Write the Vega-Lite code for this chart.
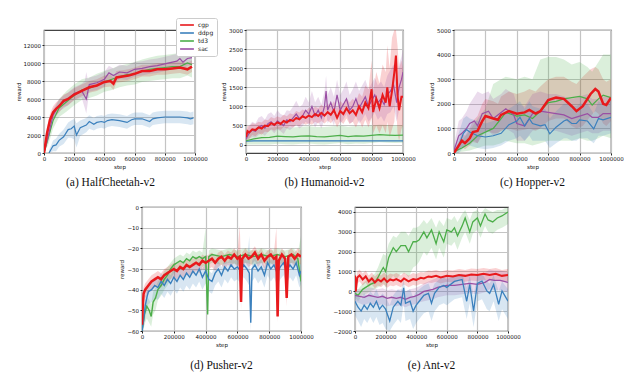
{
"$schema":"https://vega.github.io/schema/vega-lite/v6.json",
"background":"white",
"padding":{"left":15,"top":16,"right":5,"bottom":5},
"spacing":15,
"resolve":{"scale":{"color":"independent","fill":"independent"},"legend":{"color":"independent","fill":"independent"}},
"config":{
 "view":{"stroke":"#444","strokeWidth":1.2},
 "axis":{"labelFont":"DejaVu Sans","labelFontSize":5.5,"titleFont":"DejaVu Sans","titleFontSize":5.5,"titleFontWeight":"normal","gridColor":"#c4c4c4","gridWidth":1.2,"tickSize":2,"tickColor":"#222","domain":false,"labelColor":"#111","titleColor":"#111","labelPadding":1.5,"titlePadding":2},
 "title":{"font":"Liberation Serif","fontSize":11.5,"fontWeight":"normal","orient":"bottom","offset":7,"color":"#111"}
},
"vconcat":[
{"hconcat":[
 {"width":151,"height":123,"data":{"name":"a"},"title":{"text":"(a)  HalfCheetah-v2","dx":-9},
  "encoding":{"x":{"field":"x","type":"quantitative","scale":{"domain":[0,1000000],"nice":false},"axis":{"values":[0,200000,400000,600000,800000,1000000],"format":"d","title":"step","labelFlush":false,"labelOverlap":false}}},
  "layer":[
   {"mark":{"type":"area","opacity":0.2,"clip":true},"encoding":{"y":{"field":"l","type":"quantitative","scale":{"domain":[0,13667],"nice":false,"zero":false},"axis":{"values":[0,2000,4000,6000,8000,10000,12000],"format":"d","title":"reward","labelOverlap":false}},"y2":{"field":"h"},"fill":{"field":"s","type":"nominal","scale":{"domain":["sac","td3","ddpg","cgp"],"range":["#9a4fa4","#4cae49","#3b80bd","#e8191c"]},"legend":null}}},
   {"transform":[{"filter":"datum.s!='cgp'"}],"mark":{"type":"line","strokeWidth":1.2,"clip":true},"encoding":{"y":{"field":"y","type":"quantitative","axis":{"values":[0,2000,4000,6000,8000,10000,12000],"format":"d","title":"reward","labelOverlap":false}},"color":{"field":"s","type":"nominal","scale":{"domain":["cgp","ddpg","td3","sac"],"range":["#e8191c","#3b80bd","#4cae49","#9a4fa4"]},"legend":{"orient":"none","legendX":132,"legendY":-12,"title":null,"symbolType":"M-2.3,0H2.3","symbolSize":36,"symbolStrokeWidth":1.6,"symbolOffset":4,"labelFontSize":6,"labelFont":"DejaVu Sans","labelColor":"#222","rowPadding":0,"padding":3,"strokeColor":"#ccc","fillColor":"white","cornerRadius":2,"labelOffset":7}}}},
   {"transform":[{"filter":"datum.s=='cgp'"}],"mark":{"type":"line","strokeWidth":2.5,"clip":true},"encoding":{"y":{"field":"y","type":"quantitative","axis":{"values":[0,2000,4000,6000,8000,10000,12000],"format":"d","title":"reward","labelOverlap":false}},"color":{"field":"s","type":"nominal","scale":{"domain":["cgp","ddpg","td3","sac"],"range":["#e8191c","#3b80bd","#4cae49","#9a4fa4"]},"legend":{"orient":"none","legendX":132,"legendY":-12,"title":null,"symbolType":"M-2.3,0H2.3","symbolSize":36,"symbolStrokeWidth":1.6,"symbolOffset":4,"labelFontSize":6,"labelFont":"DejaVu Sans","labelColor":"#222","rowPadding":0,"padding":3,"strokeColor":"#ccc","fillColor":"white","cornerRadius":2,"labelOffset":7}}}}
  ]},
 {"width":157,"height":123,"data":{"name":"b"},"title":{"text":"(b)  Humanoid-v2"},
  "encoding":{"x":{"field":"x","type":"quantitative","scale":{"domain":[0,1000000],"nice":false},"axis":{"values":[0,200000,400000,600000,800000,1000000],"format":"d","title":"step","labelFlush":false,"labelOverlap":false}}},
  "layer":[
   {"mark":{"type":"area","opacity":0.2,"clip":true},"encoding":{"y":{"field":"l","type":"quantitative","scale":{"domain":[-220,3000],"nice":false,"zero":false},"axis":{"values":[0,500,1000,1500,2000,2500,3000],"format":"d","title":"reward","labelOverlap":false}},"y2":{"field":"h"},"fill":{"field":"s","type":"nominal","scale":{"domain":["sac","td3","ddpg","cgp"],"range":["#9a4fa4","#4cae49","#3b80bd","#e8191c"]},"legend":null}}},
   {"transform":[{"filter":"datum.s!='cgp'"}],"mark":{"type":"line","strokeWidth":1.2,"clip":true},"encoding":{"y":{"field":"y","type":"quantitative","axis":{"values":[0,500,1000,1500,2000,2500,3000],"format":"d","title":"reward","labelOverlap":false}},"color":{"field":"s","type":"nominal","scale":{"domain":["cgp","ddpg","td3","sac"],"range":["#e8191c","#3b80bd","#4cae49","#9a4fa4"]},"legend":null}}},
   {"transform":[{"filter":"datum.s=='cgp'"}],"mark":{"type":"line","strokeWidth":2,"clip":true},"encoding":{"y":{"field":"y","type":"quantitative","axis":{"values":[0,500,1000,1500,2000,2500,3000],"format":"d","title":"reward","labelOverlap":false}},"color":{"field":"s","type":"nominal","scale":{"domain":["cgp","ddpg","td3","sac"],"range":["#e8191c","#3b80bd","#4cae49","#9a4fa4"]},"legend":null}}}
  ]},
 {"width":157,"height":123,"data":{"name":"c"},"title":{"text":"(c)  Hopper-v2"},
  "encoding":{"x":{"field":"x","type":"quantitative","scale":{"domain":[0,1000000],"nice":false},"axis":{"values":[0,200000,400000,600000,800000,1000000],"format":"d","title":"step","labelFlush":false,"labelOverlap":false}}},
  "layer":[
   {"mark":{"type":"area","opacity":0.2,"clip":true},"encoding":{"y":{"field":"l","type":"quantitative","scale":{"domain":[0,5000],"nice":false,"zero":false},"axis":{"values":[0,1000,2000,3000,4000,5000],"format":"d","title":"reward","labelOverlap":false}},"y2":{"field":"h"},"fill":{"field":"s","type":"nominal","scale":{"domain":["sac","td3","ddpg","cgp"],"range":["#9a4fa4","#4cae49","#3b80bd","#e8191c"]},"legend":null}}},
   {"transform":[{"filter":"datum.s!='cgp'"}],"mark":{"type":"line","strokeWidth":1.2,"clip":true},"encoding":{"y":{"field":"y","type":"quantitative","axis":{"values":[0,1000,2000,3000,4000,5000],"format":"d","title":"reward","labelOverlap":false}},"color":{"field":"s","type":"nominal","scale":{"domain":["cgp","ddpg","td3","sac"],"range":["#e8191c","#3b80bd","#4cae49","#9a4fa4"]},"legend":null}}},
   {"transform":[{"filter":"datum.s=='cgp'"}],"mark":{"type":"line","strokeWidth":2.5,"clip":true},"encoding":{"y":{"field":"y","type":"quantitative","axis":{"values":[0,1000,2000,3000,4000,5000],"format":"d","title":"reward","labelOverlap":false}},"color":{"field":"s","type":"nominal","scale":{"domain":["cgp","ddpg","td3","sac"],"range":["#e8191c","#3b80bd","#4cae49","#9a4fa4"]},"legend":null}}}
  ]}
],"spacing":51,"bounds":"flush","resolve":{"scale":{"color":"independent","fill":"independent"},"legend":{"color":"independent","fill":"independent"}}},
{"hconcat":[
 {"width":44,"height":124,"data":{"values":[{"z":0}]},"mark":{"type":"point","opacity":0},"view":{"stroke":null}},
 {"width":159,"height":124,"data":{"name":"d"},"title":{"text":"(d)  Pusher-v2","offset":12},
  "encoding":{"x":{"field":"x","type":"quantitative","scale":{"domain":[0,1000000],"nice":false},"axis":{"values":[0,200000,400000,600000,800000,1000000],"format":"d","title":"step","labelFlush":false,"labelOverlap":false}}},
  "layer":[
   {"mark":{"type":"area","opacity":0.2,"clip":true},"encoding":{"y":{"field":"l","type":"quantitative","scale":{"domain":[-60,0],"nice":false,"zero":false},"axis":{"values":[-60,-50,-40,-30,-20,-10,0],"format":"d","title":"reward","labelOverlap":false}},"y2":{"field":"h"},"fill":{"field":"s","type":"nominal","scale":{"domain":["sac","td3","ddpg","cgp"],"range":["#9a4fa4","#4cae49","#3b80bd","#e8191c"]},"legend":null}}},
   {"transform":[{"filter":"datum.s!='cgp'"}],"mark":{"type":"line","strokeWidth":1.4,"clip":true},"encoding":{"y":{"field":"y","type":"quantitative","axis":{"values":[-60,-50,-40,-30,-20,-10,0],"format":"d","title":"reward","labelOverlap":false}},"color":{"field":"s","type":"nominal","scale":{"domain":["cgp","ddpg","td3","sac"],"range":["#e8191c","#3b80bd","#4cae49","#9a4fa4"]},"legend":null}}},
   {"transform":[{"filter":"datum.s=='cgp'"}],"mark":{"type":"line","strokeWidth":2.5,"clip":true},"encoding":{"y":{"field":"y","type":"quantitative","axis":{"values":[-60,-50,-40,-30,-20,-10,0],"format":"d","title":"reward","labelOverlap":false}},"color":{"field":"s","type":"nominal","scale":{"domain":["cgp","ddpg","td3","sac"],"range":["#e8191c","#3b80bd","#4cae49","#9a4fa4"]},"legend":null}}}
  ]},
 {"width":153,"height":124,"data":{"name":"e"},"title":{"text":"(e)  Ant-v2","offset":12},
  "encoding":{"x":{"field":"x","type":"quantitative","scale":{"domain":[0,1000000],"nice":false},"axis":{"values":[0,200000,400000,600000,800000,1000000],"format":"d","title":"step","labelFlush":false,"labelOverlap":false}}},
  "layer":[
   {"mark":{"type":"area","opacity":0.2,"clip":true},"encoding":{"y":{"field":"l","type":"quantitative","scale":{"domain":[-2000,4252],"nice":false,"zero":false},"axis":{"values":[-2000,-1000,0,1000,2000,3000,4000],"format":"d","title":"reward","labelOverlap":false}},"y2":{"field":"h"},"fill":{"field":"s","type":"nominal","scale":{"domain":["sac","td3","ddpg","cgp"],"range":["#9a4fa4","#4cae49","#3b80bd","#e8191c"]},"legend":null}}},
   {"transform":[{"filter":"datum.s!='cgp'"}],"mark":{"type":"line","strokeWidth":1.3,"clip":true},"encoding":{"y":{"field":"y","type":"quantitative","axis":{"values":[-2000,-1000,0,1000,2000,3000,4000],"format":"d","title":"reward","labelOverlap":false}},"color":{"field":"s","type":"nominal","scale":{"domain":["cgp","ddpg","td3","sac"],"range":["#e8191c","#3b80bd","#4cae49","#9a4fa4"]},"legend":null}}},
   {"transform":[{"filter":"datum.s=='cgp'"}],"mark":{"type":"line","strokeWidth":2,"clip":true},"encoding":{"y":{"field":"y","type":"quantitative","axis":{"values":[-2000,-1000,0,1000,2000,3000,4000],"format":"d","title":"reward","labelOverlap":false}},"color":{"field":"s","type":"nominal","scale":{"domain":["cgp","ddpg","td3","sac"],"range":["#e8191c","#3b80bd","#4cae49","#9a4fa4"]},"legend":null}}}
  ]}
],"spacing":54,"bounds":"flush","resolve":{"scale":{"color":"independent","fill":"independent"},"legend":{"color":"independent","fill":"independent"}}}
],
"datasets":{
"a":[
{"s":"cgp","x":0,"y":0,"l":0,"h":300},{"s":"cgp","x":20000,"y":2200,"l":1500,"h":2900},{"s":"cgp","x":40000,"y":3700,"l":3000,"h":4400},{"s":"cgp","x":60000,"y":4500,"l":3800,"h":5200},{"s":"cgp","x":80000,"y":4900,"l":4200,"h":5600},{"s":"cgp","x":100000,"y":5200,"l":4500,"h":5900},{"s":"cgp","x":130000,"y":5800,"l":5100,"h":6500},{"s":"cgp","x":160000,"y":6000,"l":5300,"h":6700},{"s":"cgp","x":200000,"y":6500,"l":5900,"h":7200},{"s":"cgp","x":250000,"y":6900,"l":6300,"h":7600},{"s":"cgp","x":300000,"y":7300,"l":6700,"h":8000},{"s":"cgp","x":350000,"y":7500,"l":6900,"h":8200},{"s":"cgp","x":400000,"y":7900,"l":7300,"h":8600},{"s":"cgp","x":440000,"y":8000,"l":7400,"h":8700},{"s":"cgp","x":460000,"y":7700,"l":7000,"h":8400},{"s":"cgp","x":480000,"y":8400,"l":7800,"h":9100},{"s":"cgp","x":520000,"y":8500,"l":7900,"h":9200},{"s":"cgp","x":560000,"y":8600,"l":8000,"h":9300},{"s":"cgp","x":600000,"y":8800,"l":8200,"h":9500},{"s":"cgp","x":650000,"y":9100,"l":8500,"h":9800},{"s":"cgp","x":700000,"y":9100,"l":8500,"h":9800},{"s":"cgp","x":750000,"y":9300,"l":8700,"h":10000},{"s":"cgp","x":800000,"y":9300,"l":8700,"h":10000},{"s":"cgp","x":850000,"y":9400,"l":8800,"h":10100},{"s":"cgp","x":900000,"y":9500,"l":8900,"h":10200},{"s":"cgp","x":950000,"y":9300,"l":8700,"h":10000},{"s":"cgp","x":980000,"y":9600,"l":9000,"h":10300},
{"s":"td3","x":0,"y":0,"l":0,"h":300},{"s":"td3","x":30000,"y":1800,"l":1000,"h":2600},{"s":"td3","x":60000,"y":3600,"l":2700,"h":4500},{"s":"td3","x":100000,"y":5000,"l":4000,"h":6000},{"s":"td3","x":150000,"y":5700,"l":4600,"h":6900},{"s":"td3","x":200000,"y":6400,"l":5300,"h":7600},{"s":"td3","x":250000,"y":7000,"l":5900,"h":8200},{"s":"td3","x":300000,"y":7200,"l":6100,"h":8400},{"s":"td3","x":350000,"y":7500,"l":6400,"h":8800},{"s":"td3","x":400000,"y":7900,"l":6800,"h":9100},{"s":"td3","x":450000,"y":8200,"l":7000,"h":9400},{"s":"td3","x":500000,"y":8500,"l":7300,"h":9700},{"s":"td3","x":550000,"y":8700,"l":7500,"h":9900},{"s":"td3","x":600000,"y":8800,"l":7600,"h":10100},{"s":"td3","x":650000,"y":9100,"l":7900,"h":10400},{"s":"td3","x":700000,"y":9300,"l":8000,"h":10600},{"s":"td3","x":750000,"y":9400,"l":8100,"h":10800},{"s":"td3","x":800000,"y":9500,"l":8200,"h":10900},{"s":"td3","x":850000,"y":9600,"l":8300,"h":11000},{"s":"td3","x":900000,"y":9600,"l":8300,"h":11100},{"s":"td3","x":950000,"y":10000,"l":8600,"h":11300},{"s":"td3","x":980000,"y":9800,"l":8400,"h":11100},
{"s":"sac","x":0,"y":0,"l":0,"h":300},{"s":"sac","x":30000,"y":2000,"l":1400,"h":2600},{"s":"sac","x":60000,"y":4200,"l":3500,"h":4900},{"s":"sac","x":100000,"y":5300,"l":4600,"h":6000},{"s":"sac","x":150000,"y":5900,"l":5200,"h":6600},{"s":"sac","x":200000,"y":6600,"l":5900,"h":7300},{"s":"sac","x":250000,"y":6900,"l":6100,"h":7700},{"s":"sac","x":270000,"y":6300,"l":5000,"h":8000},{"s":"sac","x":280000,"y":6000,"l":4400,"h":9000},{"s":"sac","x":290000,"y":6800,"l":5600,"h":8200},{"s":"sac","x":300000,"y":7600,"l":6800,"h":8400},{"s":"sac","x":350000,"y":7800,"l":7000,"h":8600},{"s":"sac","x":400000,"y":8200,"l":7400,"h":9000},{"s":"sac","x":430000,"y":8900,"l":8100,"h":9700},{"s":"sac","x":460000,"y":8600,"l":7800,"h":9400},{"s":"sac","x":500000,"y":9000,"l":8200,"h":9800},{"s":"sac","x":550000,"y":8900,"l":8100,"h":9700},{"s":"sac","x":600000,"y":9300,"l":8500,"h":10100},{"s":"sac","x":650000,"y":9400,"l":8600,"h":10200},{"s":"sac","x":700000,"y":9600,"l":8800,"h":10400},{"s":"sac","x":750000,"y":9700,"l":8900,"h":10500},{"s":"sac","x":800000,"y":9900,"l":9100,"h":10700},{"s":"sac","x":850000,"y":10100,"l":9300,"h":10900},{"s":"sac","x":880000,"y":10200,"l":9400,"h":11000},{"s":"sac","x":900000,"y":10500,"l":9700,"h":11300},{"s":"sac","x":920000,"y":10100,"l":9300,"h":10900},{"s":"sac","x":950000,"y":10500,"l":9700,"h":11300},{"s":"sac","x":980000,"y":10600,"l":9800,"h":11400},
{"s":"ddpg","x":33000,"y":0,"l":0,"h":300},{"s":"ddpg","x":60000,"y":800,"l":200,"h":1400},{"s":"ddpg","x":80000,"y":900,"l":200,"h":1600},{"s":"ddpg","x":100000,"y":1400,"l":700,"h":2100},{"s":"ddpg","x":130000,"y":1800,"l":1000,"h":2600},{"s":"ddpg","x":160000,"y":2600,"l":1700,"h":3400},{"s":"ddpg","x":180000,"y":2700,"l":1700,"h":3600},{"s":"ddpg","x":200000,"y":3000,"l":1500,"h":3800},{"s":"ddpg","x":215000,"y":2000,"l":600,"h":3300},{"s":"ddpg","x":240000,"y":2800,"l":1900,"h":3600},{"s":"ddpg","x":280000,"y":3100,"l":2300,"h":3900},{"s":"ddpg","x":300000,"y":3500,"l":2700,"h":4200},{"s":"ddpg","x":330000,"y":3200,"l":2500,"h":3900},{"s":"ddpg","x":350000,"y":3400,"l":2700,"h":4100},{"s":"ddpg","x":380000,"y":3500,"l":2800,"h":4200},{"s":"ddpg","x":400000,"y":3400,"l":2700,"h":4100},{"s":"ddpg","x":420000,"y":3600,"l":2900,"h":4300},{"s":"ddpg","x":450000,"y":3700,"l":3000,"h":4400},{"s":"ddpg","x":500000,"y":3600,"l":2900,"h":4300},{"s":"ddpg","x":550000,"y":3400,"l":2700,"h":4100},{"s":"ddpg","x":580000,"y":3700,"l":3000,"h":4400},{"s":"ddpg","x":600000,"y":3800,"l":3100,"h":4500},{"s":"ddpg","x":650000,"y":3800,"l":3100,"h":4500},{"s":"ddpg","x":700000,"y":3500,"l":2800,"h":4200},{"s":"ddpg","x":720000,"y":3800,"l":3100,"h":4500},{"s":"ddpg","x":750000,"y":3900,"l":3200,"h":4600},{"s":"ddpg","x":800000,"y":4000,"l":3300,"h":4700},{"s":"ddpg","x":850000,"y":4000,"l":3300,"h":4700},{"s":"ddpg","x":900000,"y":4000,"l":3300,"h":4700},{"s":"ddpg","x":950000,"y":3900,"l":3200,"h":4600},{"s":"ddpg","x":970000,"y":3800,"l":3100,"h":4500},{"s":"ddpg","x":990000,"y":3900,"l":3200,"h":4600}
],
"b":[
{"s":"ddpg","x":0,"y":90,"l":75,"h":110},{"s":"ddpg","x":50000,"y":100,"l":85,"h":115},{"s":"ddpg","x":200000,"y":100,"l":85,"h":115},{"s":"ddpg","x":400000,"y":100,"l":85,"h":115},{"s":"ddpg","x":600000,"y":100,"l":85,"h":115},{"s":"ddpg","x":800000,"y":100,"l":85,"h":115},{"s":"ddpg","x":1000000,"y":100,"l":85,"h":115},
{"s":"td3","x":0,"y":100,"l":0,"h":300},{"s":"td3","x":20000,"y":120,"l":0,"h":350},{"s":"td3","x":50000,"y":150,"l":0,"h":400},{"s":"td3","x":100000,"y":180,"l":0,"h":430},{"s":"td3","x":150000,"y":190,"l":0,"h":440},{"s":"td3","x":200000,"y":220,"l":20,"h":470},{"s":"td3","x":250000,"y":210,"l":10,"h":460},{"s":"td3","x":300000,"y":200,"l":0,"h":450},{"s":"td3","x":350000,"y":220,"l":20,"h":470},{"s":"td3","x":400000,"y":230,"l":30,"h":480},{"s":"td3","x":450000,"y":210,"l":10,"h":460},{"s":"td3","x":500000,"y":200,"l":0,"h":460},{"s":"td3","x":550000,"y":220,"l":20,"h":480},{"s":"td3","x":600000,"y":240,"l":40,"h":500},{"s":"td3","x":650000,"y":210,"l":10,"h":470},{"s":"td3","x":700000,"y":230,"l":30,"h":490},{"s":"td3","x":750000,"y":220,"l":20,"h":480},{"s":"td3","x":800000,"y":240,"l":40,"h":500},{"s":"td3","x":850000,"y":260,"l":60,"h":520},{"s":"td3","x":900000,"y":250,"l":50,"h":510},{"s":"td3","x":950000,"y":240,"l":40,"h":500},{"s":"td3","x":1000000,"y":250,"l":50,"h":510},
{"s":"cgp","x":0,"y":200,"l":50,"h":350},{"s":"cgp","x":10000,"y":350,"l":150,"h":500},{"s":"cgp","x":20000,"y":320,"l":150,"h":480},{"s":"cgp","x":40000,"y":400,"l":250,"h":560},{"s":"cgp","x":60000,"y":380,"l":220,"h":540},{"s":"cgp","x":80000,"y":450,"l":300,"h":600},{"s":"cgp","x":100000,"y":420,"l":260,"h":580},{"s":"cgp","x":120000,"y":500,"l":340,"h":660},{"s":"cgp","x":140000,"y":480,"l":320,"h":640},{"s":"cgp","x":160000,"y":560,"l":400,"h":720},{"s":"cgp","x":180000,"y":520,"l":360,"h":680},{"s":"cgp","x":200000,"y":580,"l":420,"h":740},{"s":"cgp","x":220000,"y":540,"l":380,"h":700},{"s":"cgp","x":240000,"y":620,"l":460,"h":780},{"s":"cgp","x":260000,"y":580,"l":420,"h":740},{"s":"cgp","x":280000,"y":650,"l":480,"h":820},{"s":"cgp","x":300000,"y":620,"l":450,"h":790},{"s":"cgp","x":320000,"y":700,"l":520,"h":880},{"s":"cgp","x":340000,"y":660,"l":480,"h":840},{"s":"cgp","x":360000,"y":740,"l":560,"h":920},{"s":"cgp","x":380000,"y":700,"l":520,"h":880},{"s":"cgp","x":400000,"y":760,"l":560,"h":960},{"s":"cgp","x":420000,"y":720,"l":520,"h":920},{"s":"cgp","x":440000,"y":800,"l":600,"h":1000},{"s":"cgp","x":460000,"y":750,"l":550,"h":950},{"s":"cgp","x":480000,"y":830,"l":620,"h":1040},{"s":"cgp","x":500000,"y":760,"l":550,"h":970},{"s":"cgp","x":520000,"y":850,"l":630,"h":1070},{"s":"cgp","x":540000,"y":780,"l":560,"h":1000},{"s":"cgp","x":560000,"y":900,"l":660,"h":1140},{"s":"cgp","x":580000,"y":700,"l":450,"h":950},{"s":"cgp","x":600000,"y":880,"l":620,"h":1140},{"s":"cgp","x":620000,"y":800,"l":540,"h":1060},{"s":"cgp","x":640000,"y":950,"l":680,"h":1220},{"s":"cgp","x":660000,"y":820,"l":540,"h":1100},{"s":"cgp","x":680000,"y":900,"l":600,"h":1200},{"s":"cgp","x":700000,"y":780,"l":450,"h":1110},{"s":"cgp","x":720000,"y":1000,"l":650,"h":1350},{"s":"cgp","x":740000,"y":850,"l":450,"h":1250},{"s":"cgp","x":760000,"y":1100,"l":650,"h":1550},{"s":"cgp","x":780000,"y":950,"l":450,"h":1450},{"s":"cgp","x":800000,"y":1450,"l":700,"h":2200},{"s":"cgp","x":810000,"y":850,"l":300,"h":1400},{"s":"cgp","x":830000,"y":1200,"l":500,"h":1900},{"s":"cgp","x":850000,"y":950,"l":300,"h":1600},{"s":"cgp","x":870000,"y":1300,"l":500,"h":2100},{"s":"cgp","x":890000,"y":1100,"l":300,"h":1900},{"s":"cgp","x":900000,"y":1500,"l":600,"h":2600},{"s":"cgp","x":915000,"y":1000,"l":200,"h":2000},{"s":"cgp","x":930000,"y":1400,"l":400,"h":2800},{"s":"cgp","x":945000,"y":1900,"l":600,"h":3000},{"s":"cgp","x":955000,"y":2330,"l":1200,"h":3000},{"s":"cgp","x":965000,"y":1300,"l":300,"h":2600},{"s":"cgp","x":975000,"y":900,"l":100,"h":2000},{"s":"cgp","x":990000,"y":1250,"l":400,"h":2200},{"s":"cgp","x":1000000,"y":1250,"l":500,"h":2000},
{"s":"sac","x":0,"y":150,"l":50,"h":300},{"s":"sac","x":20000,"y":300,"l":150,"h":500},{"s":"sac","x":40000,"y":380,"l":200,"h":600},{"s":"sac","x":60000,"y":350,"l":180,"h":550},{"s":"sac","x":80000,"y":450,"l":250,"h":700},{"s":"sac","x":100000,"y":500,"l":300,"h":750},{"s":"sac","x":120000,"y":430,"l":230,"h":650},{"s":"sac","x":140000,"y":550,"l":330,"h":800},{"s":"sac","x":160000,"y":600,"l":380,"h":850},{"s":"sac","x":180000,"y":500,"l":300,"h":750},{"s":"sac","x":200000,"y":620,"l":400,"h":900},{"s":"sac","x":220000,"y":560,"l":350,"h":800},{"s":"sac","x":240000,"y":500,"l":280,"h":760},{"s":"sac","x":260000,"y":650,"l":420,"h":900},{"s":"sac","x":280000,"y":600,"l":380,"h":880},{"s":"sac","x":300000,"y":700,"l":450,"h":1000},{"s":"sac","x":320000,"y":800,"l":520,"h":1150},{"s":"sac","x":340000,"y":680,"l":420,"h":980},{"s":"sac","x":360000,"y":750,"l":480,"h":1050},{"s":"sac","x":380000,"y":900,"l":600,"h":1250},{"s":"sac","x":400000,"y":800,"l":520,"h":1100},{"s":"sac","x":420000,"y":1000,"l":650,"h":1400},{"s":"sac","x":440000,"y":750,"l":450,"h":1100},{"s":"sac","x":460000,"y":900,"l":600,"h":1250},{"s":"sac","x":480000,"y":700,"l":420,"h":1050},{"s":"sac","x":500000,"y":1000,"l":650,"h":1400},{"s":"sac","x":510000,"y":1400,"l":900,"h":1800},{"s":"sac","x":520000,"y":900,"l":550,"h":1300},{"s":"sac","x":540000,"y":1100,"l":700,"h":1500},{"s":"sac","x":560000,"y":850,"l":500,"h":1250},{"s":"sac","x":580000,"y":1300,"l":850,"h":1700},{"s":"sac","x":600000,"y":900,"l":550,"h":1300},{"s":"sac","x":620000,"y":1050,"l":650,"h":1450},{"s":"sac","x":640000,"y":1200,"l":800,"h":1650},{"s":"sac","x":660000,"y":900,"l":550,"h":1300},{"s":"sac","x":680000,"y":1000,"l":600,"h":1450},{"s":"sac","x":700000,"y":1200,"l":750,"h":1650},{"s":"sac","x":720000,"y":950,"l":550,"h":1400},{"s":"sac","x":740000,"y":1100,"l":650,"h":1550},{"s":"sac","x":760000,"y":1250,"l":800,"h":1700},{"s":"sac","x":780000,"y":1000,"l":600,"h":1450},{"s":"sac","x":800000,"y":1150,"l":700,"h":1600},{"s":"sac","x":820000,"y":1300,"l":850,"h":1750},{"s":"sac","x":840000,"y":1100,"l":650,"h":1550},{"s":"sac","x":860000,"y":1200,"l":750,"h":1650},{"s":"sac","x":880000,"y":1050,"l":600,"h":1500},{"s":"sac","x":900000,"y":1300,"l":800,"h":1800},{"s":"sac","x":920000,"y":1400,"l":850,"h":1950},{"s":"sac","x":940000,"y":1550,"l":1000,"h":2100},{"s":"sac","x":960000,"y":1100,"l":600,"h":1600},{"s":"sac","x":975000,"y":1500,"l":900,"h":2100},{"s":"sac","x":990000,"y":1700,"l":1100,"h":2300},{"s":"sac","x":1000000,"y":1900,"l":1300,"h":2500}
],
"c":[
{"s":"cgp","x":0,"y":0,"l":0,"h":100},{"s":"cgp","x":25000,"y":250,"l":100,"h":400},{"s":"cgp","x":50000,"y":500,"l":250,"h":800},{"s":"cgp","x":70000,"y":400,"l":150,"h":700},{"s":"cgp","x":100000,"y":600,"l":300,"h":1000},{"s":"cgp","x":120000,"y":850,"l":450,"h":1300},{"s":"cgp","x":150000,"y":900,"l":400,"h":1500},{"s":"cgp","x":180000,"y":1300,"l":700,"h":2000},{"s":"cgp","x":200000,"y":1500,"l":900,"h":2200},{"s":"cgp","x":250000,"y":1400,"l":800,"h":2100},{"s":"cgp","x":280000,"y":1350,"l":800,"h":2000},{"s":"cgp","x":300000,"y":1550,"l":900,"h":2300},{"s":"cgp","x":350000,"y":1700,"l":1000,"h":2500},{"s":"cgp","x":400000,"y":1600,"l":900,"h":2400},{"s":"cgp","x":450000,"y":1650,"l":950,"h":2500},{"s":"cgp","x":480000,"y":1750,"l":1000,"h":2600},{"s":"cgp","x":520000,"y":1600,"l":900,"h":2500},{"s":"cgp","x":550000,"y":1700,"l":1000,"h":2700},{"s":"cgp","x":600000,"y":2150,"l":1300,"h":3000},{"s":"cgp","x":650000,"y":2250,"l":1400,"h":3100},{"s":"cgp","x":700000,"y":2200,"l":1400,"h":3100},{"s":"cgp","x":750000,"y":1900,"l":1100,"h":2900},{"s":"cgp","x":780000,"y":1700,"l":1000,"h":2800},{"s":"cgp","x":820000,"y":1900,"l":1100,"h":3100},{"s":"cgp","x":870000,"y":2400,"l":1500,"h":3400},{"s":"cgp","x":900000,"y":2600,"l":1700,"h":3500},{"s":"cgp","x":920000,"y":2500,"l":1600,"h":3400},{"s":"cgp","x":950000,"y":2000,"l":1200,"h":3000},{"s":"cgp","x":970000,"y":1950,"l":1100,"h":2900},{"s":"cgp","x":1000000,"y":2250,"l":1300,"h":3000},
{"s":"td3","x":0,"y":50,"l":0,"h":150},{"s":"td3","x":50000,"y":200,"l":50,"h":500},{"s":"td3","x":100000,"y":400,"l":100,"h":900},{"s":"td3","x":150000,"y":700,"l":200,"h":1400},{"s":"td3","x":200000,"y":850,"l":300,"h":1800},{"s":"td3","x":250000,"y":1000,"l":300,"h":2800},{"s":"td3","x":300000,"y":1400,"l":400,"h":3000},{"s":"td3","x":330000,"y":1650,"l":500,"h":3100},{"s":"td3","x":400000,"y":1500,"l":400,"h":3000},{"s":"td3","x":450000,"y":1550,"l":400,"h":3100},{"s":"td3","x":500000,"y":1400,"l":300,"h":3000},{"s":"td3","x":550000,"y":1700,"l":400,"h":3800},{"s":"td3","x":600000,"y":2050,"l":500,"h":3900},{"s":"td3","x":650000,"y":2100,"l":500,"h":3900},{"s":"td3","x":700000,"y":2200,"l":500,"h":3800},{"s":"td3","x":750000,"y":2250,"l":500,"h":3600},{"s":"td3","x":800000,"y":2300,"l":600,"h":3700},{"s":"td3","x":850000,"y":2200,"l":500,"h":3500},{"s":"td3","x":880000,"y":1950,"l":500,"h":3300},{"s":"td3","x":920000,"y":2200,"l":600,"h":3700},{"s":"td3","x":950000,"y":2350,"l":700,"h":4000},{"s":"td3","x":1000000,"y":2250,"l":600,"h":4000},
{"s":"sac","x":0,"y":100,"l":0,"h":300},{"s":"sac","x":30000,"y":700,"l":100,"h":1300},{"s":"sac","x":50000,"y":800,"l":200,"h":1400},{"s":"sac","x":80000,"y":1000,"l":300,"h":1700},{"s":"sac","x":100000,"y":1200,"l":400,"h":2000},{"s":"sac","x":130000,"y":1300,"l":500,"h":2300},{"s":"sac","x":150000,"y":1100,"l":400,"h":2500},{"s":"sac","x":180000,"y":1600,"l":800,"h":2400},{"s":"sac","x":220000,"y":1700,"l":900,"h":2500},{"s":"sac","x":250000,"y":1400,"l":700,"h":2200},{"s":"sac","x":300000,"y":1650,"l":900,"h":2400},{"s":"sac","x":330000,"y":1800,"l":1000,"h":2600},{"s":"sac","x":380000,"y":1550,"l":800,"h":2400},{"s":"sac","x":400000,"y":1200,"l":500,"h":2000},{"s":"sac","x":450000,"y":1100,"l":500,"h":1900},{"s":"sac","x":500000,"y":1600,"l":900,"h":2400},{"s":"sac","x":550000,"y":1700,"l":1000,"h":2500},{"s":"sac","x":600000,"y":1650,"l":900,"h":2400},{"s":"sac","x":650000,"y":1600,"l":900,"h":2400},{"s":"sac","x":700000,"y":1550,"l":800,"h":2300},{"s":"sac","x":750000,"y":1400,"l":700,"h":2200},{"s":"sac","x":800000,"y":1500,"l":800,"h":2300},{"s":"sac","x":850000,"y":1600,"l":900,"h":2400},{"s":"sac","x":880000,"y":1450,"l":800,"h":2200},{"s":"sac","x":920000,"y":1450,"l":800,"h":2200},{"s":"sac","x":950000,"y":1600,"l":900,"h":2300},{"s":"sac","x":1000000,"y":1600,"l":900,"h":2300},
{"s":"ddpg","x":0,"y":0,"l":0,"h":100},{"s":"ddpg","x":30000,"y":300,"l":0,"h":800},{"s":"ddpg","x":60000,"y":800,"l":200,"h":1400},{"s":"ddpg","x":80000,"y":950,"l":400,"h":1500},{"s":"ddpg","x":100000,"y":850,"l":300,"h":1400},{"s":"ddpg","x":150000,"y":700,"l":200,"h":1300},{"s":"ddpg","x":200000,"y":650,"l":150,"h":1200},{"s":"ddpg","x":250000,"y":700,"l":200,"h":1300},{"s":"ddpg","x":300000,"y":800,"l":300,"h":1400},{"s":"ddpg","x":350000,"y":1150,"l":500,"h":1800},{"s":"ddpg","x":400000,"y":1300,"l":600,"h":2000},{"s":"ddpg","x":420000,"y":1450,"l":700,"h":2100},{"s":"ddpg","x":450000,"y":1100,"l":500,"h":1800},{"s":"ddpg","x":480000,"y":1400,"l":700,"h":2100},{"s":"ddpg","x":500000,"y":1200,"l":500,"h":1900},{"s":"ddpg","x":550000,"y":1100,"l":500,"h":1800},{"s":"ddpg","x":580000,"y":1150,"l":500,"h":1800},{"s":"ddpg","x":610000,"y":780,"l":200,"h":1400},{"s":"ddpg","x":650000,"y":1050,"l":400,"h":1700},{"s":"ddpg","x":700000,"y":1300,"l":600,"h":2000},{"s":"ddpg","x":720000,"y":1350,"l":600,"h":2000},{"s":"ddpg","x":750000,"y":1200,"l":500,"h":1900},{"s":"ddpg","x":780000,"y":1200,"l":500,"h":1900},{"s":"ddpg","x":800000,"y":1350,"l":600,"h":2000},{"s":"ddpg","x":850000,"y":1300,"l":600,"h":2000},{"s":"ddpg","x":890000,"y":980,"l":400,"h":1600},{"s":"ddpg","x":920000,"y":1400,"l":700,"h":2100},{"s":"ddpg","x":950000,"y":1350,"l":700,"h":2000},{"s":"ddpg","x":1000000,"y":1450,"l":800,"h":2100}
],
"d":[
{"s":"cgp","x":0,"y":-57,"l":-60,"h":-54},{"s":"cgp","x":5000,"y":-48,"l":-52,"h":-45},{"s":"cgp","x":10000,"y":-42,"l":-46,"h":-39},{"s":"cgp","x":20000,"y":-40,"l":-44,"h":-37},{"s":"cgp","x":40000,"y":-38,"l":-42,"h":-35},{"s":"cgp","x":60000,"y":-36,"l":-40,"h":-33},{"s":"cgp","x":80000,"y":-35,"l":-39,"h":-32},{"s":"cgp","x":100000,"y":-34,"l":-38,"h":-31},{"s":"cgp","x":120000,"y":-35,"l":-39,"h":-32},{"s":"cgp","x":140000,"y":-33,"l":-37,"h":-30},{"s":"cgp","x":160000,"y":-32,"l":-36,"h":-29},{"s":"cgp","x":180000,"y":-31,"l":-35,"h":-28},{"s":"cgp","x":200000,"y":-30,"l":-34,"h":-27},{"s":"cgp","x":220000,"y":-31,"l":-35,"h":-28},{"s":"cgp","x":240000,"y":-29,"l":-33,"h":-26},{"s":"cgp","x":260000,"y":-30,"l":-34,"h":-27},{"s":"cgp","x":280000,"y":-28,"l":-32,"h":-25},{"s":"cgp","x":300000,"y":-29,"l":-33,"h":-26},{"s":"cgp","x":320000,"y":-28,"l":-32,"h":-25},{"s":"cgp","x":340000,"y":-27,"l":-31,"h":-24},{"s":"cgp","x":360000,"y":-28,"l":-32,"h":-25},{"s":"cgp","x":380000,"y":-26,"l":-30,"h":-23},{"s":"cgp","x":400000,"y":-27,"l":-31,"h":-24},{"s":"cgp","x":420000,"y":-26,"l":-30,"h":-23},{"s":"cgp","x":440000,"y":-25,"l":-29,"h":-22},{"s":"cgp","x":460000,"y":-27,"l":-31,"h":-24},{"s":"cgp","x":480000,"y":-25,"l":-29,"h":-22},{"s":"cgp","x":500000,"y":-24,"l":-28,"h":-21},{"s":"cgp","x":520000,"y":-26,"l":-30,"h":-23},{"s":"cgp","x":540000,"y":-24,"l":-28,"h":-21},{"s":"cgp","x":560000,"y":-25,"l":-29,"h":-22},{"s":"cgp","x":580000,"y":-23,"l":-27,"h":-20},{"s":"cgp","x":600000,"y":-25,"l":-29,"h":-22},{"s":"cgp","x":615000,"y":-24,"l":-28,"h":-9},{"s":"cgp","x":623000,"y":-46,"l":-50,"h":-30},{"s":"cgp","x":630000,"y":-25,"l":-29,"h":-22},{"s":"cgp","x":650000,"y":-23,"l":-27,"h":-20},{"s":"cgp","x":670000,"y":-25,"l":-29,"h":-22},{"s":"cgp","x":690000,"y":-24,"l":-28,"h":-21},{"s":"cgp","x":710000,"y":-22,"l":-26,"h":-19},{"s":"cgp","x":730000,"y":-25,"l":-29,"h":-22},{"s":"cgp","x":750000,"y":-23,"l":-27,"h":-20},{"s":"cgp","x":770000,"y":-26,"l":-30,"h":-23},{"s":"cgp","x":790000,"y":-24,"l":-28,"h":-21},{"s":"cgp","x":810000,"y":-23,"l":-27,"h":-20},{"s":"cgp","x":830000,"y":-25,"l":-29,"h":-22},{"s":"cgp","x":845000,"y":-24,"l":-28,"h":-10},{"s":"cgp","x":853000,"y":-53,"l":-56,"h":-35},{"s":"cgp","x":860000,"y":-26,"l":-30,"h":-23},{"s":"cgp","x":880000,"y":-23,"l":-27,"h":-20},{"s":"cgp","x":900000,"y":-25,"l":-29,"h":-22},{"s":"cgp","x":910000,"y":-44,"l":-48,"h":-30},{"s":"cgp","x":920000,"y":-24,"l":-28,"h":-21},{"s":"cgp","x":940000,"y":-23,"l":-27,"h":-20},{"s":"cgp","x":960000,"y":-25,"l":-29,"h":-22},{"s":"cgp","x":980000,"y":-23,"l":-27,"h":-20},{"s":"cgp","x":1000000,"y":-24,"l":-28,"h":-21},
{"s":"td3","x":0,"y":-60,"l":-60,"h":-56},{"s":"td3","x":15000,"y":-52,"l":-57,"h":-47},{"s":"td3","x":30000,"y":-48,"l":-54,"h":-43},{"s":"td3","x":45000,"y":-50,"l":-56,"h":-45},{"s":"td3","x":58000,"y":-53,"l":-58,"h":-47},{"s":"td3","x":70000,"y":-46,"l":-52,"h":-41},{"s":"td3","x":85000,"y":-44,"l":-50,"h":-39},{"s":"td3","x":100000,"y":-40,"l":-45,"h":-36},{"s":"td3","x":120000,"y":-38,"l":-43,"h":-34},{"s":"td3","x":140000,"y":-35,"l":-40,"h":-31},{"s":"td3","x":160000,"y":-33,"l":-38,"h":-29},{"s":"td3","x":180000,"y":-30,"l":-35,"h":-27},{"s":"td3","x":200000,"y":-28,"l":-32,"h":-25},{"s":"td3","x":220000,"y":-27,"l":-31,"h":-24},{"s":"td3","x":240000,"y":-26,"l":-30,"h":-23},{"s":"td3","x":260000,"y":-27,"l":-31,"h":-24},{"s":"td3","x":280000,"y":-25,"l":-29,"h":-22},{"s":"td3","x":300000,"y":-26,"l":-30,"h":-23},{"s":"td3","x":320000,"y":-24,"l":-28,"h":-21},{"s":"td3","x":340000,"y":-25,"l":-29,"h":-22},{"s":"td3","x":360000,"y":-24,"l":-28,"h":-21},{"s":"td3","x":380000,"y":-25,"l":-29,"h":-22},{"s":"td3","x":400000,"y":-24,"l":-28,"h":-10},{"s":"td3","x":413000,"y":-52,"l":-56,"h":-40},{"s":"td3","x":420000,"y":-24,"l":-28,"h":-21},{"s":"td3","x":440000,"y":-23,"l":-27,"h":-20},{"s":"td3","x":500000,"y":-24,"l":-28,"h":-21},{"s":"td3","x":550000,"y":-23,"l":-27,"h":-20},{"s":"td3","x":600000,"y":-24,"l":-28,"h":-21},{"s":"td3","x":650000,"y":-23,"l":-27,"h":-20},{"s":"td3","x":700000,"y":-24,"l":-28,"h":-21},{"s":"td3","x":750000,"y":-23,"l":-27,"h":-20},{"s":"td3","x":800000,"y":-24,"l":-28,"h":-21},{"s":"td3","x":850000,"y":-23,"l":-27,"h":-20},{"s":"td3","x":900000,"y":-24,"l":-28,"h":-21},{"s":"td3","x":950000,"y":-23,"l":-27,"h":-20},{"s":"td3","x":980000,"y":-25,"l":-29,"h":-22},{"s":"td3","x":1000000,"y":-36,"l":-40,"h":-14},
{"s":"ddpg","x":0,"y":-60,"l":-60,"h":-57},{"s":"ddpg","x":10000,"y":-55,"l":-60,"h":-50},{"s":"ddpg","x":20000,"y":-48,"l":-54,"h":-43},{"s":"ddpg","x":30000,"y":-44,"l":-50,"h":-39},{"s":"ddpg","x":40000,"y":-41,"l":-47,"h":-37},{"s":"ddpg","x":60000,"y":-40,"l":-46,"h":-36},{"s":"ddpg","x":80000,"y":-38,"l":-44,"h":-34},{"s":"ddpg","x":100000,"y":-39,"l":-45,"h":-35},{"s":"ddpg","x":120000,"y":-36,"l":-42,"h":-32},{"s":"ddpg","x":140000,"y":-38,"l":-44,"h":-34},{"s":"ddpg","x":160000,"y":-35,"l":-41,"h":-31},{"s":"ddpg","x":180000,"y":-37,"l":-43,"h":-33},{"s":"ddpg","x":200000,"y":-34,"l":-40,"h":-30},{"s":"ddpg","x":220000,"y":-36,"l":-42,"h":-32},{"s":"ddpg","x":240000,"y":-33,"l":-39,"h":-29},{"s":"ddpg","x":260000,"y":-35,"l":-41,"h":-31},{"s":"ddpg","x":280000,"y":-32,"l":-38,"h":-28},{"s":"ddpg","x":300000,"y":-34,"l":-40,"h":-30},{"s":"ddpg","x":320000,"y":-31,"l":-37,"h":-27},{"s":"ddpg","x":340000,"y":-33,"l":-39,"h":-29},{"s":"ddpg","x":360000,"y":-30,"l":-36,"h":-26},{"s":"ddpg","x":380000,"y":-34,"l":-40,"h":-30},{"s":"ddpg","x":400000,"y":-31,"l":-37,"h":-27},{"s":"ddpg","x":420000,"y":-35,"l":-41,"h":-31},{"s":"ddpg","x":440000,"y":-36,"l":-42,"h":-32},{"s":"ddpg","x":460000,"y":-32,"l":-38,"h":-28},{"s":"ddpg","x":480000,"y":-30,"l":-36,"h":-26},{"s":"ddpg","x":500000,"y":-33,"l":-39,"h":-29},{"s":"ddpg","x":520000,"y":-29,"l":-35,"h":-25},{"s":"ddpg","x":540000,"y":-31,"l":-37,"h":-27},{"s":"ddpg","x":560000,"y":-28,"l":-34,"h":-24},{"s":"ddpg","x":580000,"y":-30,"l":-36,"h":-26},{"s":"ddpg","x":600000,"y":-29,"l":-35,"h":-25},{"s":"ddpg","x":620000,"y":-31,"l":-37,"h":-27},{"s":"ddpg","x":640000,"y":-28,"l":-34,"h":-24},{"s":"ddpg","x":660000,"y":-30,"l":-36,"h":-26},{"s":"ddpg","x":675000,"y":-32,"l":-38,"h":-14},{"s":"ddpg","x":684000,"y":-56,"l":-60,"h":-40},{"s":"ddpg","x":692000,"y":-30,"l":-36,"h":-26},{"s":"ddpg","x":710000,"y":-28,"l":-34,"h":-24},{"s":"ddpg","x":730000,"y":-31,"l":-37,"h":-27},{"s":"ddpg","x":750000,"y":-29,"l":-35,"h":-25},{"s":"ddpg","x":770000,"y":-33,"l":-39,"h":-29},{"s":"ddpg","x":790000,"y":-27,"l":-33,"h":-23},{"s":"ddpg","x":810000,"y":-30,"l":-36,"h":-26},{"s":"ddpg","x":830000,"y":-28,"l":-34,"h":-24},{"s":"ddpg","x":850000,"y":-32,"l":-38,"h":-28},{"s":"ddpg","x":870000,"y":-29,"l":-35,"h":-25},{"s":"ddpg","x":890000,"y":-27,"l":-33,"h":-23},{"s":"ddpg","x":910000,"y":-31,"l":-37,"h":-27},{"s":"ddpg","x":930000,"y":-28,"l":-34,"h":-24},{"s":"ddpg","x":950000,"y":-30,"l":-36,"h":-26},{"s":"ddpg","x":970000,"y":-27,"l":-33,"h":-23},{"s":"ddpg","x":990000,"y":-33,"l":-39,"h":-29},{"s":"ddpg","x":1000000,"y":-31,"l":-37,"h":-27}
],
"e":[
{"s":"td3","x":0,"y":-100,"l":-300,"h":100},{"s":"td3","x":20000,"y":-200,"l":-500,"h":100},{"s":"td3","x":50000,"y":100,"l":-200,"h":400},{"s":"td3","x":80000,"y":250,"l":-100,"h":600},{"s":"td3","x":100000,"y":350,"l":0,"h":700},{"s":"td3","x":130000,"y":450,"l":100,"h":900},{"s":"td3","x":150000,"y":700,"l":200,"h":1200},{"s":"td3","x":170000,"y":1000,"l":300,"h":1600},{"s":"td3","x":185000,"y":1200,"l":400,"h":1900},{"s":"td3","x":200000,"y":1000,"l":200,"h":1800},{"s":"td3","x":220000,"y":1700,"l":500,"h":2400},{"s":"td3","x":250000,"y":2200,"l":800,"h":2800},{"s":"td3","x":270000,"y":2000,"l":600,"h":2700},{"s":"td3","x":300000,"y":2300,"l":900,"h":3000},{"s":"td3","x":330000,"y":2300,"l":900,"h":3000},{"s":"td3","x":350000,"y":2000,"l":700,"h":2800},{"s":"td3","x":380000,"y":2500,"l":1200,"h":3200},{"s":"td3","x":400000,"y":2500,"l":1300,"h":3200},{"s":"td3","x":420000,"y":2600,"l":1500,"h":3300},{"s":"td3","x":450000,"y":3000,"l":2000,"h":3600},{"s":"td3","x":470000,"y":2700,"l":1800,"h":3400},{"s":"td3","x":500000,"y":3100,"l":2200,"h":3700},{"s":"td3","x":530000,"y":2400,"l":1600,"h":3200},{"s":"td3","x":550000,"y":3000,"l":2200,"h":3600},{"s":"td3","x":580000,"y":2500,"l":1700,"h":3300},{"s":"td3","x":600000,"y":3100,"l":2400,"h":3700},{"s":"td3","x":630000,"y":3000,"l":2300,"h":3600},{"s":"td3","x":650000,"y":3200,"l":2500,"h":3800},{"s":"td3","x":670000,"y":2800,"l":2100,"h":3500},{"s":"td3","x":700000,"y":3300,"l":2700,"h":3900},{"s":"td3","x":720000,"y":3700,"l":3000,"h":4100},{"s":"td3","x":750000,"y":3000,"l":2400,"h":3600},{"s":"td3","x":770000,"y":3500,"l":2900,"h":4000},{"s":"td3","x":800000,"y":3700,"l":3100,"h":4100},{"s":"td3","x":820000,"y":3300,"l":2700,"h":3900},{"s":"td3","x":850000,"y":3900,"l":3300,"h":4200},{"s":"td3","x":870000,"y":3600,"l":3000,"h":4100},{"s":"td3","x":900000,"y":3500,"l":2900,"h":4000},{"s":"td3","x":930000,"y":3700,"l":3100,"h":4100},{"s":"td3","x":960000,"y":3800,"l":3200,"h":4100},{"s":"td3","x":980000,"y":3900,"l":3300,"h":4200},{"s":"td3","x":1000000,"y":4000,"l":3400,"h":4200},
{"s":"cgp","x":0,"y":800,"l":400,"h":1000},{"s":"cgp","x":5000,"y":0,"l":-200,"h":400},{"s":"cgp","x":15000,"y":700,"l":400,"h":1000},{"s":"cgp","x":30000,"y":800,"l":500,"h":1100},{"s":"cgp","x":50000,"y":600,"l":300,"h":900},{"s":"cgp","x":70000,"y":750,"l":450,"h":1050},{"s":"cgp","x":90000,"y":500,"l":200,"h":800},{"s":"cgp","x":110000,"y":650,"l":350,"h":950},{"s":"cgp","x":130000,"y":450,"l":150,"h":750},{"s":"cgp","x":150000,"y":600,"l":300,"h":900},{"s":"cgp","x":170000,"y":500,"l":200,"h":800},{"s":"cgp","x":190000,"y":650,"l":350,"h":950},{"s":"cgp","x":210000,"y":480,"l":180,"h":780},{"s":"cgp","x":230000,"y":600,"l":300,"h":900},{"s":"cgp","x":250000,"y":550,"l":250,"h":850},{"s":"cgp","x":270000,"y":620,"l":320,"h":920},{"s":"cgp","x":300000,"y":500,"l":200,"h":800},{"s":"cgp","x":320000,"y":650,"l":350,"h":950},{"s":"cgp","x":350000,"y":500,"l":200,"h":800},{"s":"cgp","x":380000,"y":620,"l":320,"h":920},{"s":"cgp","x":400000,"y":580,"l":280,"h":880},{"s":"cgp","x":430000,"y":680,"l":380,"h":980},{"s":"cgp","x":450000,"y":650,"l":350,"h":950},{"s":"cgp","x":480000,"y":750,"l":450,"h":1050},{"s":"cgp","x":500000,"y":720,"l":420,"h":1020},{"s":"cgp","x":530000,"y":780,"l":480,"h":1080},{"s":"cgp","x":560000,"y":700,"l":400,"h":1000},{"s":"cgp","x":600000,"y":780,"l":480,"h":1080},{"s":"cgp","x":640000,"y":750,"l":450,"h":1050},{"s":"cgp","x":680000,"y":820,"l":520,"h":1120},{"s":"cgp","x":720000,"y":780,"l":480,"h":1080},{"s":"cgp","x":760000,"y":850,"l":550,"h":1150},{"s":"cgp","x":800000,"y":820,"l":520,"h":1120},{"s":"cgp","x":840000,"y":880,"l":580,"h":1180},{"s":"cgp","x":880000,"y":820,"l":520,"h":1120},{"s":"cgp","x":920000,"y":880,"l":580,"h":1180},{"s":"cgp","x":960000,"y":780,"l":480,"h":1080},{"s":"cgp","x":1000000,"y":820,"l":520,"h":1120},
{"s":"sac","x":0,"y":-200,"l":-500,"h":100},{"s":"sac","x":30000,"y":-250,"l":-600,"h":100},{"s":"sac","x":60000,"y":-300,"l":-700,"h":100},{"s":"sac","x":90000,"y":-200,"l":-600,"h":200},{"s":"sac","x":120000,"y":-250,"l":-650,"h":150},{"s":"sac","x":150000,"y":-300,"l":-700,"h":100},{"s":"sac","x":180000,"y":-250,"l":-650,"h":150},{"s":"sac","x":210000,"y":-350,"l":-750,"h":50},{"s":"sac","x":240000,"y":-300,"l":-700,"h":100},{"s":"sac","x":270000,"y":-350,"l":-750,"h":50},{"s":"sac","x":300000,"y":-300,"l":-700,"h":100},{"s":"sac","x":330000,"y":-400,"l":-800,"h":0},{"s":"sac","x":360000,"y":-300,"l":-700,"h":100},{"s":"sac","x":390000,"y":-250,"l":-650,"h":150},{"s":"sac","x":420000,"y":-150,"l":-550,"h":250},{"s":"sac","x":450000,"y":0,"l":-500,"h":400},{"s":"sac","x":480000,"y":50,"l":-450,"h":500},{"s":"sac","x":510000,"y":100,"l":-400,"h":600},{"s":"sac","x":540000,"y":200,"l":-300,"h":700},{"s":"sac","x":570000,"y":250,"l":-250,"h":750},{"s":"sac","x":600000,"y":300,"l":-200,"h":800},{"s":"sac","x":650000,"y":300,"l":-200,"h":800},{"s":"sac","x":700000,"y":350,"l":-150,"h":850},{"s":"sac","x":750000,"y":400,"l":-100,"h":900},{"s":"sac","x":800000,"y":350,"l":-150,"h":850},{"s":"sac","x":850000,"y":450,"l":-50,"h":950},{"s":"sac","x":880000,"y":600,"l":100,"h":1100},{"s":"sac","x":910000,"y":550,"l":50,"h":1050},{"s":"sac","x":950000,"y":550,"l":50,"h":1050},{"s":"sac","x":1000000,"y":450,"l":-50,"h":950},
{"s":"ddpg","x":0,"y":-500,"l":-1200,"h":0},{"s":"ddpg","x":20000,"y":-800,"l":-1500,"h":-200},{"s":"ddpg","x":40000,"y":-1000,"l":-1800,"h":-400},{"s":"ddpg","x":60000,"y":-700,"l":-1400,"h":-100},{"s":"ddpg","x":80000,"y":-900,"l":-1600,"h":-300},{"s":"ddpg","x":100000,"y":-600,"l":-1300,"h":0},{"s":"ddpg","x":120000,"y":-800,"l":-1600,"h":-200},{"s":"ddpg","x":140000,"y":-500,"l":-1300,"h":100},{"s":"ddpg","x":160000,"y":-900,"l":-1700,"h":-300},{"s":"ddpg","x":180000,"y":-700,"l":-1600,"h":-100},{"s":"ddpg","x":200000,"y":-900,"l":-1900,"h":-300},{"s":"ddpg","x":227000,"y":-1500,"l":-2000,"h":-700},{"s":"ddpg","x":250000,"y":-800,"l":-1700,"h":-200},{"s":"ddpg","x":280000,"y":-500,"l":-1400,"h":100},{"s":"ddpg","x":300000,"y":-700,"l":-1600,"h":0},{"s":"ddpg","x":318000,"y":180,"l":-600,"h":600},{"s":"ddpg","x":330000,"y":-600,"l":-1500,"h":0},{"s":"ddpg","x":360000,"y":-500,"l":-1400,"h":100},{"s":"ddpg","x":380000,"y":-1000,"l":-1900,"h":-300},{"s":"ddpg","x":400000,"y":-700,"l":-1600,"h":0},{"s":"ddpg","x":420000,"y":-500,"l":-1400,"h":100},{"s":"ddpg","x":450000,"y":-200,"l":-1100,"h":300},{"s":"ddpg","x":480000,"y":-100,"l":-1000,"h":400},{"s":"ddpg","x":500000,"y":-600,"l":-1500,"h":0},{"s":"ddpg","x":520000,"y":-100,"l":-1000,"h":400},{"s":"ddpg","x":550000,"y":200,"l":-700,"h":600},{"s":"ddpg","x":580000,"y":300,"l":-600,"h":700},{"s":"ddpg","x":600000,"y":200,"l":-700,"h":600},{"s":"ddpg","x":650000,"y":500,"l":-400,"h":800},{"s":"ddpg","x":700000,"y":600,"l":-300,"h":900},{"s":"ddpg","x":730000,"y":-500,"l":-1400,"h":200},{"s":"ddpg","x":750000,"y":350,"l":-600,"h":800},{"s":"ddpg","x":775000,"y":-990,"l":-1800,"h":-200},{"s":"ddpg","x":800000,"y":400,"l":-500,"h":800},{"s":"ddpg","x":830000,"y":520,"l":-400,"h":900},{"s":"ddpg","x":862000,"y":20,"l":-900,"h":500},{"s":"ddpg","x":880000,"y":-100,"l":-1000,"h":400},{"s":"ddpg","x":906000,"y":350,"l":-500,"h":800},{"s":"ddpg","x":939000,"y":-650,"l":-1500,"h":0},{"s":"ddpg","x":961000,"y":20,"l":-900,"h":500},{"s":"ddpg","x":1000000,"y":-490,"l":-1400,"h":100}
]
}
}
